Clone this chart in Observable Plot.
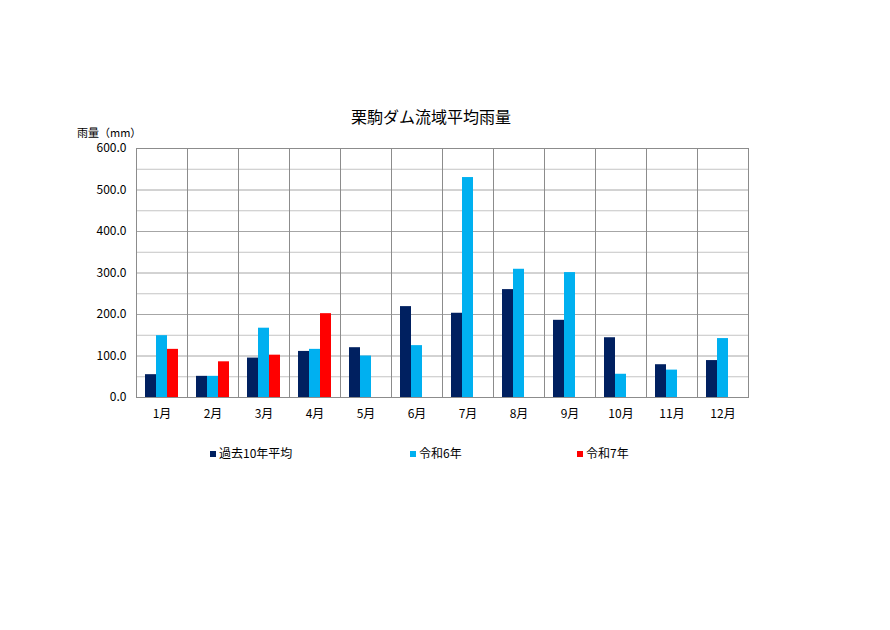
<!DOCTYPE html>
<html><head><meta charset="utf-8">
<script src="https://cdn.jsdelivr.net/npm/d3@7"></script>
<script src="https://cdn.jsdelivr.net/npm/@observablehq/plot@0.6"></script>
<style>
html,body{margin:0;padding:0;background:#fff;}
body{width:890px;height:630px;position:relative;overflow:hidden;font-family:"Noto Sans CJK JP",sans-serif;color:#000;}
#chart{position:absolute;left:0;top:0;}
.t{position:absolute;white-space:nowrap;}
#title{left:0;width:862px;text-align:center;top:104px;font-size:16px;}
#ylabel{left:77px;top:127px;font-size:11px;line-height:11px;}
.leg{position:absolute;top:444px;font-size:12px;white-space:nowrap;}
.leg i{display:inline-block;width:6px;height:6px;margin-right:3px;vertical-align:middle;position:relative;top:-1px;}
</style></head>
<body>
<div id="title" class="t">栗駒ダム流域平均雨量</div>
<div id="ylabel" class="t">雨量（mm）</div>
<div id="chart"></div>
<div id="legend"></div>
<script>
const months = ["1月","2月","3月","4月","5月","6月","7月","8月","9月","10月","11月","12月"];
const seriesNames = ["過去10年平均","令和6年","令和7年"];
const seriesColors = ["#002060","#00B0F0","#FF0000"];
const avg10 = [55, 51, 95, 111, 120, 219, 203, 260, 186, 144, 79, 89];
const r6 = [149, 51, 167, 116, 100, 125, 530, 309, 301, 56, 66, 142];
const r7 = [116, 86, 102, 202];
const yTicks = [0, 100, 200, 300, 400, 500, 600];
const legendLeft = [210, 410, 577];

const data = [];
[avg10, r6, r7].forEach((vals, si) => {
  vals.forEach((v, i) => data.push({month: months[i], series: seriesNames[si], value: v}));
});

const chart = Plot.plot({
  width: 890,
  height: 430,
  marginTop: 148,
  marginBottom: 33,
  marginLeft: 135,
  marginRight: 142,
  style: {fontFamily: '"Noto Sans CJK JP", sans-serif', fontSize: "12px", color: "#000", background: "transparent"},
  fx: {domain: months, padding: 0, label: null, axis: "bottom", tickSize: 0, tickPadding: 12},
  x: {domain: seriesNames, axis: null, paddingInner: 0, paddingOuter: 0.75},
  y: {domain: [0, 600], ticks: yTicks, tickFormat: d => d.toFixed(1), tickSize: 0, tickPadding: 10, label: null},
  color: {domain: seriesNames, range: seriesColors},
  marks: [
    Plot.ruleY(d3.range(50, 600, 100), {stroke: "#c4c4c4", strokeWidth: 1}),
    Plot.ruleY(yTicks, {stroke: "#a6a6a6", strokeWidth: 1}),
    Plot.barY(data, {fx: "month", x: "series", y: "value", fill: "series"}),
    Plot.frame({stroke: "#8c8c8c", strokeWidth: 1})
  ]
});
document.getElementById("chart").appendChild(chart);

const leg = document.getElementById("legend");
seriesNames.forEach((n, i) => {
  const s = document.createElement("div");
  s.className = "leg";
  s.style.left = legendLeft[i] + "px";
  s.innerHTML = `<i style="background:${seriesColors[i]}"></i>${n}`;
  leg.appendChild(s);
});
</script>
</body></html>
